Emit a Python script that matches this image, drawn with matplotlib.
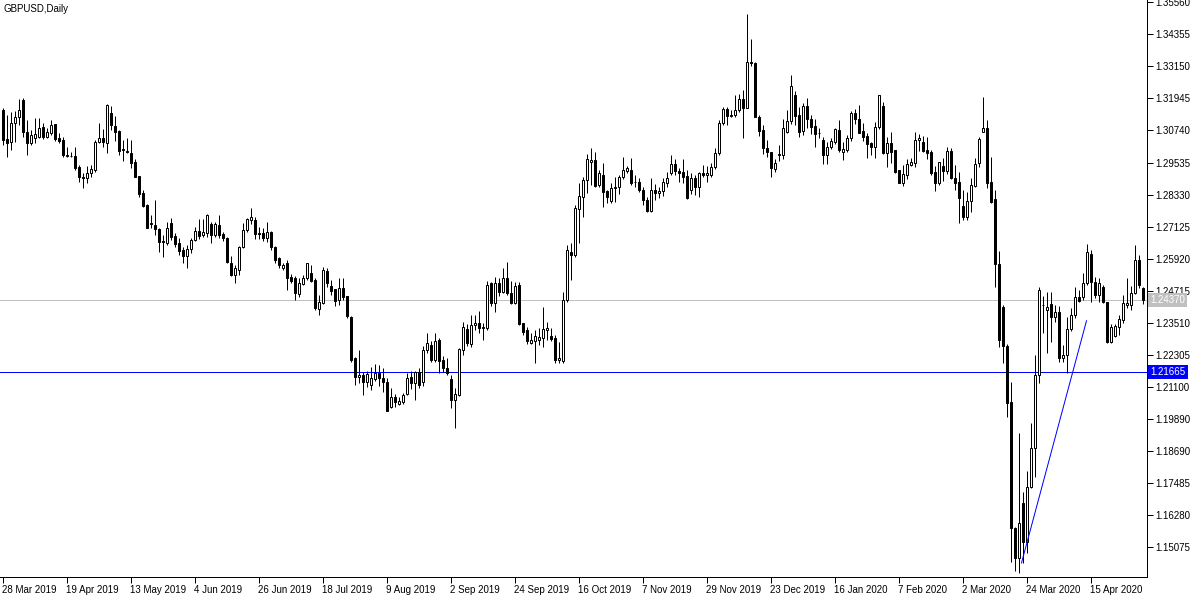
import numpy as np
import matplotlib.pyplot as plt

# GBPUSD daily candles, 28 Mar 2019 .. 4 May 2020
chart_title = "GBPUSD,Daily"

date_labels = ["28 Mar 2019", "19 Apr 2019", "13 May 2019", "4 Jun 2019", "26 Jun 2019",
               "18 Jul 2019", "9 Aug 2019", "2 Sep 2019", "24 Sep 2019", "16 Oct 2019",
               "7 Nov 2019", "29 Nov 2019", "23 Dec 2019", "16 Jan 2020", "7 Feb 2020",
               "2 Mar 2020", "24 Mar 2020", "15 Apr 2020"]
bars_per_label = 16

opens = [
    1.3151, 1.3041, 1.3032, 1.3101, 1.3126, 1.3188, 1.3069, 1.3028, 1.3045, 1.3051,
    1.3086, 1.3048, 1.3066, 1.3098, 1.3047, 1.3038, 1.2982, 1.2979, 1.2978, 1.2935,
    1.2898, 1.2894, 1.2913, 1.2925, 1.3032, 1.3045, 1.3028, 1.3138, 1.3091, 1.3072,
    1.3004, 1.2998, 1.2990, 1.2956, 1.2903, 1.2838, 1.2794, 1.2725, 1.2718, 1.2704,
    1.2658, 1.2653, 1.2725, 1.2677, 1.2650, 1.2625, 1.2602, 1.2627, 1.2662, 1.2696,
    1.2681, 1.2687, 1.2722, 1.2681, 1.2719, 1.2685, 1.2669, 1.2575, 1.2531, 1.2550,
    1.2637, 1.2700, 1.2737, 1.2737, 1.2690, 1.2690, 1.2669, 1.2694, 1.2637, 1.2594,
    1.2556, 1.2575, 1.2525, 1.2518, 1.2460, 1.2497, 1.2519, 1.2537, 1.2514, 1.2402,
    1.2425, 1.2547, 1.2490, 1.2477, 1.2437, 1.2481, 1.2452, 1.2374, 1.2218, 1.2149,
    1.2155, 1.2130, 1.2118, 1.2140, 1.2162, 1.2143, 1.2130, 1.2036, 1.2071, 1.2048,
    1.2052, 1.2084, 1.2149, 1.2124, 1.2168, 1.2130, 1.2249, 1.2268, 1.2212, 1.2287,
    1.2212, 1.2180, 1.2139, 1.2061, 1.2080, 1.2249, 1.2327, 1.2272, 1.2343, 1.2350,
    1.2331, 1.2330, 1.2500, 1.2424, 1.2500, 1.2468, 1.2518, 1.2464, 1.2427, 1.2493,
    1.2349, 1.2324, 1.2274, 1.2284, 1.2287, 1.2296, 1.2323, 1.2302, 1.2293, 1.2212,
    1.2206, 1.2437, 1.2618, 1.2606, 1.2778, 1.2825, 1.2888, 1.2954, 1.2962, 1.2869,
    1.2907, 1.2848, 1.2810, 1.2856, 1.2860, 1.2898, 1.2922, 1.2925, 1.2882, 1.2880,
    1.2850, 1.2813, 1.2770, 1.2850, 1.2840, 1.2848, 1.2876, 1.2915, 1.2948, 1.2923,
    1.2919, 1.2903, 1.2850, 1.2894, 1.2860, 1.2915, 1.2907, 1.2907, 1.2935, 1.2988,
    1.3101, 1.3153, 1.3128, 1.3132, 1.3151, 1.3191, 1.3157, 1.3333, 1.3329, 1.3123,
    1.3076, 1.3007, 1.2994, 1.2928, 1.2981, 1.2981, 1.3069, 1.3108, 1.3207, 1.3132,
    1.3073, 1.3166, 1.3116, 1.3091, 1.3063, 1.3038, 1.2982, 1.3013, 1.3032, 1.3076,
    1.2994, 1.3000, 1.3045, 1.3138, 1.3116, 1.3073, 1.3053, 1.3026, 1.3013, 1.3086,
    1.3166, 1.2990, 1.3028, 1.3000, 1.2925, 1.2878, 1.2907, 1.2946, 1.2953, 1.3038,
    1.3032, 1.3000, 1.2994, 1.2919, 1.2875, 1.2940, 1.2923, 1.2998, 1.2894, 1.2881,
    1.2790, 1.2748, 1.2810, 1.2865, 1.2951, 1.3069, 1.3082, 1.2882, 1.2815, 1.2572,
    1.2412, 1.2264, 1.2055, 1.1579, 1.1466, 1.1673, 1.1529, 1.1733, 1.1880, 1.2155,
    1.2420, 1.2401, 1.2422, 1.2372, 1.2393, 1.2218, 1.2230, 1.2327, 1.2381, 1.2449,
    1.2449, 1.2500, 1.2609, 1.2505, 1.2456, 1.2487, 1.2431, 1.2280, 1.2300, 1.2337,
    1.2362, 1.2418, 1.2418, 1.2462, 1.2587, 1.2481,
]
highs = [
    1.3159, 1.3132, 1.3144, 1.3148, 1.3191, 1.3195, 1.3113, 1.3076, 1.3120, 1.3120,
    1.3103, 1.3083, 1.3113, 1.3100, 1.3066, 1.3051, 1.3011, 1.2994, 1.3013, 1.2944,
    1.2913, 1.2940, 1.2944, 1.3038, 1.3101, 1.3078, 1.3173, 1.3166, 1.3128, 1.3076,
    1.3038, 1.3045, 1.3038, 1.2966, 1.2903, 1.2850, 1.2798, 1.2756, 1.2813, 1.2706,
    1.2681, 1.2731, 1.2744, 1.2687, 1.2669, 1.2637, 1.2644, 1.2669, 1.2713, 1.2740,
    1.2740, 1.2760, 1.2731, 1.2731, 1.2756, 1.2694, 1.2673, 1.2602, 1.2568, 1.2640,
    1.2725, 1.2744, 1.2781, 1.2750, 1.2712, 1.2709, 1.2731, 1.2697, 1.2640, 1.2598,
    1.2575, 1.2587, 1.2535, 1.2527, 1.2518, 1.2531, 1.2575, 1.2568, 1.2518, 1.2456,
    1.2561, 1.2557, 1.2512, 1.2477, 1.2518, 1.2518, 1.2452, 1.2377, 1.2222, 1.2249,
    1.2168, 1.2170, 1.2186, 1.2195, 1.2192, 1.2180, 1.2145, 1.2105, 1.2082, 1.2071,
    1.2086, 1.2162, 1.2171, 1.2171, 1.2183, 1.2264, 1.2312, 1.2283, 1.2312, 1.2293,
    1.2227, 1.2218, 1.2155, 1.2105, 1.2257, 1.2355, 1.2346, 1.2381, 1.2381, 1.2396,
    1.2352, 1.2509, 1.2506, 1.2525, 1.2518, 1.2556, 1.2581, 1.2507, 1.2506, 1.2506,
    1.2352, 1.2334, 1.2312, 1.2324, 1.2330, 1.2412, 1.2355, 1.2330, 1.2306, 1.2280,
    1.2468, 1.2645, 1.2650, 1.2794, 1.2875, 1.2900, 1.2985, 1.3007, 1.2994, 1.2925,
    1.2950, 1.2850, 1.2875, 1.2900, 1.2905, 1.2976, 1.2940, 1.2970, 1.2906, 1.2896,
    1.2863, 1.2823, 1.2896, 1.2873, 1.2862, 1.2896, 1.2919, 1.2982, 1.2966, 1.2932,
    1.2966, 1.2925, 1.2913, 1.2907, 1.2919, 1.2944, 1.2940, 1.2950, 1.3007, 1.3113,
    1.3163, 1.3161, 1.3151, 1.3207, 1.3211, 1.3226, 1.3511, 1.3416, 1.3333, 1.3132,
    1.3095, 1.3038, 1.2994, 1.2968, 1.3019, 1.3116, 1.3151, 1.3282, 1.3223, 1.3161,
    1.3176, 1.3195, 1.3131, 1.3116, 1.3082, 1.3048, 1.3032, 1.3047, 1.3082, 1.3113,
    1.3032, 1.3057, 1.3146, 1.3153, 1.3170, 1.3101, 1.3066, 1.3032, 1.3107, 1.3207,
    1.3182, 1.3048, 1.3069, 1.3000, 1.2925, 1.2944, 1.2966, 1.2970, 1.3069, 1.3061,
    1.3053, 1.3048, 1.3000, 1.2940, 1.2957, 1.2970, 1.3013, 1.3007, 1.2944, 1.2919,
    1.2850, 1.2844, 1.2894, 1.2970, 1.3051, 1.3199, 1.3113, 1.2975, 1.2850, 1.2622,
    1.2418, 1.2272, 1.2130, 1.1586, 1.1936, 1.1717, 1.1793, 1.1974, 1.2230, 1.2487,
    1.2452, 1.2468, 1.2468, 1.2418, 1.2414, 1.2268, 1.2372, 1.2407, 1.2485, 1.2475,
    1.2537, 1.2647, 1.2625, 1.2522, 1.2518, 1.2494, 1.2431, 1.2347, 1.2348, 1.2381,
    1.2456, 1.2518, 1.2488, 1.2644, 1.2606, 1.2487,
]
lows = [
    1.3019, 1.2975, 1.3001, 1.3032, 1.3094, 1.3051, 1.2982, 1.3019, 1.3026, 1.3045,
    1.3041, 1.3045, 1.3057, 1.3036, 1.3026, 1.2975, 1.2975, 1.2973, 1.2925, 1.2881,
    1.2859, 1.2875, 1.2900, 1.2919, 1.3026, 1.3013, 1.2988, 1.3076, 1.3036, 1.2982,
    1.2960, 1.2988, 1.2932, 1.2898, 1.2823, 1.2785, 1.2706, 1.2709, 1.2681, 1.2618,
    1.2600, 1.2644, 1.2662, 1.2637, 1.2606, 1.2577, 1.2556, 1.2613, 1.2658, 1.2665,
    1.2673, 1.2675, 1.2650, 1.2673, 1.2669, 1.2660, 1.2577, 1.2527, 1.2502, 1.2530,
    1.2631, 1.2694, 1.2722, 1.2665, 1.2665, 1.2660, 1.2656, 1.2625, 1.2575, 1.2556,
    1.2548, 1.2475, 1.2500, 1.2437, 1.2449, 1.2492, 1.2512, 1.2506, 1.2399, 1.2381,
    1.2421, 1.2484, 1.2456, 1.2415, 1.2418, 1.2437, 1.2370, 1.2205, 1.2118, 1.2124,
    1.2080, 1.2110, 1.2099, 1.2134, 1.2113, 1.2092, 1.2021, 1.2033, 1.2036, 1.2044,
    1.2048, 1.2080, 1.2101, 1.2061, 1.2105, 1.2114, 1.2237, 1.2205, 1.2205, 1.2164,
    1.2167, 1.2155, 1.2030, 1.1955, 1.2075, 1.2230, 1.2264, 1.2262, 1.2324, 1.2312,
    1.2287, 1.2323, 1.2415, 1.2393, 1.2451, 1.2462, 1.2456, 1.2421, 1.2421, 1.2343,
    1.2305, 1.2271, 1.2271, 1.2201, 1.2268, 1.2262, 1.2287, 1.2284, 1.2199, 1.2199,
    1.2199, 1.2430, 1.2512, 1.2600, 1.2650, 1.2748, 1.2838, 1.2869, 1.2863, 1.2863,
    1.2788, 1.2800, 1.2803, 1.2804, 1.2835, 1.2890, 1.2916, 1.2869, 1.2862, 1.2843,
    1.2794, 1.2766, 1.2766, 1.2813, 1.2820, 1.2829, 1.2863, 1.2907, 1.2907, 1.2881,
    1.2878, 1.2815, 1.2835, 1.2832, 1.2823, 1.2900, 1.2881, 1.2900, 1.2929, 1.2982,
    1.3094, 1.3094, 1.3123, 1.3126, 1.3143, 1.3045, 1.3157, 1.3318, 1.3126, 1.3053,
    1.2986, 1.2973, 1.2900, 1.2917, 1.2960, 1.2966, 1.3063, 1.3098, 1.3094, 1.3051,
    1.3058, 1.3082, 1.3061, 1.3011, 1.3044, 1.2948, 1.2948, 1.3003, 1.3024, 1.2994,
    1.2964, 1.2994, 1.3036, 1.3098, 1.3063, 1.3036, 1.2969, 1.2982, 1.2969, 1.3078,
    1.2986, 1.2938, 1.2953, 1.2916, 1.2875, 1.2865, 1.2890, 1.2940, 1.2938, 1.2998,
    1.2994, 1.2965, 1.2907, 1.2848, 1.2869, 1.2885, 1.2910, 1.2890, 1.2850, 1.2725,
    1.2737, 1.2736, 1.2769, 1.2862, 1.2937, 1.3069, 1.2857, 1.2800, 1.2487, 1.2262,
    1.2199, 1.1999, 1.1454, 1.1417, 1.1410, 1.1448, 1.1486, 1.1729, 1.1773, 1.2126,
    1.2314, 1.2237, 1.2280, 1.2355, 1.2205, 1.2205, 1.2164, 1.2320, 1.2368, 1.2431,
    1.2437, 1.2493, 1.2431, 1.2443, 1.2431, 1.2427, 1.2276, 1.2276, 1.2297, 1.2306,
    1.2351, 1.2406, 1.2400, 1.2460, 1.2481, 1.2422,
]
closes = [
    1.3038, 1.3026, 1.3101, 1.3126, 1.3151, 1.3069, 1.3028, 1.3057, 1.3061, 1.3082,
    1.3048, 1.3069, 1.3094, 1.3041, 1.3036, 1.2982, 1.2979, 1.2978, 1.2932, 1.2898,
    1.2894, 1.2915, 1.2929, 1.3032, 1.3045, 1.3030, 1.3170, 1.3094, 1.3069, 1.2998,
    1.3000, 1.2994, 1.2953, 1.2900, 1.2835, 1.2790, 1.2709, 1.2721, 1.2703, 1.2656,
    1.2656, 1.2706, 1.2675, 1.2647, 1.2622, 1.2602, 1.2627, 1.2662, 1.2696, 1.2677,
    1.2694, 1.2756, 1.2681, 1.2722, 1.2681, 1.2669, 1.2581, 1.2531, 1.2556, 1.2635,
    1.2700, 1.2740, 1.2747, 1.2684, 1.2684, 1.2669, 1.2694, 1.2637, 1.2587, 1.2568,
    1.2568, 1.2519, 1.2510, 1.2462, 1.2500, 1.2518, 1.2575, 1.2510, 1.2406, 1.2431,
    1.2550, 1.2500, 1.2472, 1.2434, 1.2481, 1.2449, 1.2377, 1.2212, 1.2149, 1.2155,
    1.2130, 1.2159, 1.2143, 1.2162, 1.2143, 1.2130, 1.2021, 1.2071, 1.2055, 1.2059,
    1.2080, 1.2143, 1.2124, 1.2168, 1.2118, 1.2249, 1.2277, 1.2212, 1.2284, 1.2209,
    1.2180, 1.2162, 1.2061, 1.2082, 1.2252, 1.2334, 1.2277, 1.2343, 1.2352, 1.2331,
    1.2335, 1.2493, 1.2424, 1.2500, 1.2468, 1.2518, 1.2464, 1.2427, 1.2490, 1.2347,
    1.2318, 1.2284, 1.2286, 1.2302, 1.2299, 1.2327, 1.2331, 1.2289, 1.2212, 1.2218,
    1.2437, 1.2625, 1.2606, 1.2781, 1.2828, 1.2888, 1.2966, 1.2962, 1.2865, 1.2913,
    1.2844, 1.2825, 1.2856, 1.2863, 1.2898, 1.2925, 1.2932, 1.2878, 1.2880, 1.2850,
    1.2813, 1.2773, 1.2850, 1.2840, 1.2848, 1.2882, 1.2894, 1.2948, 1.2923, 1.2913,
    1.2900, 1.2819, 1.2894, 1.2860, 1.2915, 1.2907, 1.2915, 1.2935, 1.2988, 1.3101,
    1.3153, 1.3128, 1.3132, 1.3151, 1.3191, 1.3157, 1.3333, 1.3327, 1.3126, 1.3073,
    1.3007, 1.2994, 1.2932, 1.2953, 1.2987, 1.3082, 1.3111, 1.3241, 1.3128, 1.3069,
    1.3166, 1.3116, 1.3088, 1.3061, 1.3063, 1.2982, 1.3013, 1.3036, 1.3078, 1.3000,
    1.3004, 1.3045, 1.3138, 1.3116, 1.3066, 1.3051, 1.3023, 1.3013, 1.3086, 1.3207,
    1.2990, 1.3028, 1.2994, 1.2919, 1.2878, 1.2910, 1.2948, 1.2957, 1.3038, 1.3047,
    1.2998, 1.2990, 1.2915, 1.2875, 1.2954, 1.2923, 1.2998, 1.2894, 1.2878, 1.2819,
    1.2750, 1.2810, 1.2869, 1.2948, 1.3041, 1.3082, 1.2878, 1.2807, 1.2572, 1.2287,
    1.2264, 1.2051, 1.1579, 1.1466, 1.1598, 1.1529, 1.1733, 1.1880, 1.2155, 1.2475,
    1.2418, 1.2411, 1.2372, 1.2393, 1.2218, 1.2230, 1.2327, 1.2381, 1.2449, 1.2434,
    1.2500, 1.2618, 1.2505, 1.2456, 1.2502, 1.2431, 1.2280, 1.2336, 1.2338, 1.2364,
    1.2424, 1.2427, 1.2464, 1.2587, 1.2493, 1.2437,
]

price_ticks = [1.35560, 1.34355, 1.33150, 1.31945, 1.30740, 1.29535, 1.28330, 1.27125,
               1.25920, 1.24715, 1.23510, 1.22305, 1.21100, 1.19890, 1.18690, 1.17485,
               1.16280, 1.15075]
bid_price = 1.24370
level_price = 1.21665
trend_bars = [254.75, 271.0]
trend_prices = [1.1449, 1.2359]

plt.rcParams['font.family'] = ['Liberation Sans', 'DejaVu Sans']

W, H = 1200, 600
PX = 0.72  # one pixel in points at dpi 100
fig = plt.figure(figsize=(W / 100, H / 100), dpi=100)
fig.patch.set_facecolor('white')
ax = fig.add_axes([0.0, 23 / H, 1147 / W, 577 / H])

o = np.array(opens)
h = np.array(highs)
l = np.array(lows)
c = np.array(closes)
x = np.arange(len(o))
up = c >= o

# horizontal lines sit behind the candles
ax.axhline(bid_price, color='#c0c0c0', lw=PX, zorder=1)
ax.axhline(level_price, color='#0000ff', lw=PX, zorder=1)

ax.vlines(x, l, h, color='black', lw=PX, zorder=3)
ax.bar(x[up], (c - o)[up], bottom=o[up], width=0.5, color='white',
       edgecolor='black', lw=PX, zorder=4)
ax.bar(x[~up], (c - o)[~up], bottom=o[~up], width=0.5, color='black',
       edgecolor='black', lw=PX, zorder=4)

ax.plot(trend_bars, trend_prices, color='#0000ff', lw=PX, zorder=5)

# 4 px per bar, bar centres on pixel centres
ax.set_xlim(-0.625, -0.625 + 1147 / 4)
ax.set_ylim(1.13963, 1.35641)

for side in ['top', 'left']:
    ax.spines[side].set_visible(False)
for side in ['right', 'bottom']:
    ax.spines[side].set_linewidth(PX)

ax.yaxis.tick_right()
ax.set_yticks(price_ticks, [f"{p:.5f}" for p in price_ticks])
ax.tick_params(axis='y', length=4, width=PX, pad=2, labelsize=7)

ax.set_xticks(np.arange(len(date_labels)) * bars_per_label, date_labels)
ax.tick_params(axis='x', length=4, width=PX, pad=2, labelsize=7)
for lab in ax.get_xticklabels():
    lab.set_horizontalalignment('left')

# price tags on the right axis
ytr = ax.get_yaxis_transform()
ax.text(1.003, bid_price, f"{bid_price:.5f}", transform=ytr, fontsize=7, color='white',
        va='center', ha='left', clip_on=False, zorder=10,
        bbox=dict(boxstyle='square,pad=0.2', fc='#c0c0c0', ec='none'))
ax.text(1.003, level_price, f"{level_price:.5f}", transform=ytr, fontsize=7, color='white',
        va='center', ha='left', clip_on=False, zorder=10,
        bbox=dict(boxstyle='square,pad=0.2', fc='#0000ff', ec='none'))

ax.text(4 / 1147, 1 - 9 / 577, chart_title, transform=ax.transAxes, fontsize=7,
        va='center', ha='left')

fig.savefig('out.png', dpi=100)
